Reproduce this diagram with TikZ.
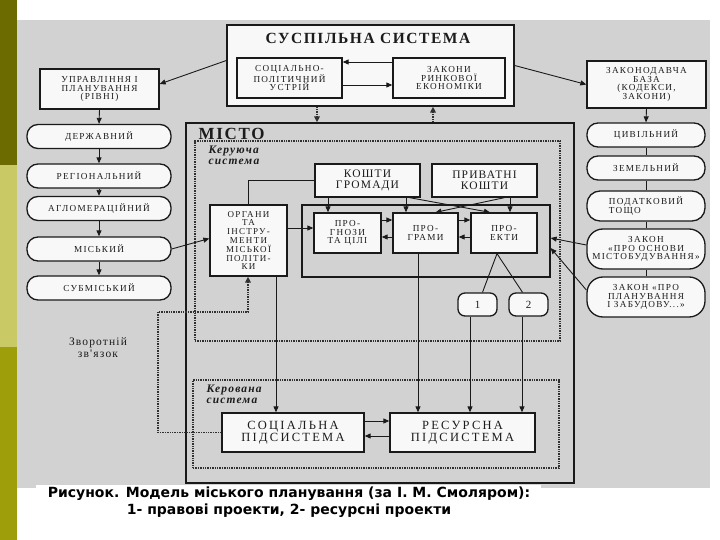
\documentclass[tikz,border=0pt]{standalone}
\usepackage{fontspec}
\setmainfont{Liberation Serif}
\newfontfamily\capfont{DejaVu Sans}
\newfontfamily\dgf[LetterSpace=10]{Liberation Serif}
\newfontfamily\dgfb[LetterSpace=14]{Liberation Serif}
\newfontfamily\dgfw[LetterSpace=18]{Liberation Serif}
\usetikzlibrary{arrows.meta,calc}
\definecolor{bgc}{HTML}{D2D2D2}
\definecolor{boxf}{HTML}{F8F8F8}
\definecolor{ink}{HTML}{1A1A1A}
\definecolor{txt}{HTML}{1C1C1C}
\definecolor{stripA}{HTML}{6B6B00}
\definecolor{stripB}{HTML}{C9C965}
\definecolor{stripC}{HTML}{9E9E0A}
\newcommand\fB{\dgfb\fontsize{9.2}{8.7}\selectfont}
\newcommand\fO{\dgfb\fontsize{9}{8.8}\selectfont}
\newcommand\fC{\dgf\fontsize{11.5}{11}\selectfont}
\newcommand\fD{\dgfw\fontsize{12.5}{11.5}\selectfont}
\newcommand\fN{\dgf\fontsize{11}{11}\selectfont}
\newcommand\fT{\dgf\bfseries\fontsize{15.5}{15.5}\selectfont}
\newcommand\fM{\dgf\bfseries\fontsize{17}{17}\selectfont}
\newcommand\fI{\dgf\bfseries\itshape\fontsize{11.5}{11}\selectfont}
\begin{document}
\begin{tikzpicture}[x=1pt,y=-1pt,
  box/.style={draw=ink, fill=boxf, line width=1.3pt, align=center, inner sep=1pt, text=txt},
  pill/.style={box, rounded corners=11pt},
  frm/.style={draw=ink, line width=1.3pt},
  dotbox/.style={draw=ink!90, line width=1.7pt, dash pattern=on 1.4pt off 1pt},
  arr/.style={draw=ink, line width=0.9pt, -{Triangle[length=6pt,width=5pt]}},
  ln/.style={draw=ink, line width=0.9pt},
  dotarr/.style={draw=ink!90, line width=1.7pt, dash pattern=on 1.4pt off 1pt, -{Triangle[length=6pt,width=5.5pt]}}
]
\useasboundingbox (0,0) rectangle (720,540);
\fill[white] (0,0) rectangle (720,540);
\fill[bgc] (16,20) rectangle (710,488);
\fill[white] (36,485) rectangle (541,540);
\fill[stripA] (0,0) rectangle (17,165);
\fill[stripB] (0,165) rectangle (17,347);
\fill[stripC] (0,347) rectangle (17,540);

% ---- top system
\node[box, minimum width=287pt, minimum height=81pt] (soc) at (370.5,65.5) {};
\node[font=\fT, text=txt] (socT) at (368,38) {СУСПІЛЬНА СИСТЕМА};
\node[box, font=\fB, minimum width=105pt, minimum height=40pt] (spu) at (289.5,78) {СОЦІАЛЬНО-\\ПОЛІТИЧНИЙ\\УСТРІЙ};
\node[box, font=\fB, minimum width=112pt, minimum height=40pt] (zre) at (449,78) {ЗАКОНИ\\РИНКОВОЇ\\ЕКОНОМІКИ};

% ---- left column
\node[box, font=\fB, minimum width=119pt, minimum height=40pt] (upr) at (99.5,89) {УПРАВЛІННЯ І\\ПЛАНУВАННЯ\\(РІВНІ)};
\node[pill, font=\fB, minimum width=144pt, minimum height=24pt] (dj) at (99,136.5) {ДЕРЖАВНИЙ};
\node[pill, font=\fB, minimum width=144pt, minimum height=24pt] (rg) at (99,176) {РЕГІОНАЛЬНИЙ};
\node[pill, font=\fB, minimum width=144pt, minimum height=24pt] (ag) at (99,208.5) {АГЛОМЕРАЦІЙНИЙ};
\node[pill, font=\fB, minimum width=144pt, minimum height=24pt] (ms) at (99,249) {МІСЬКИЙ};
\node[pill, font=\fB, minimum width=144pt, minimum height=24pt] (sb) at (99,288) {СУБМІСЬКИЙ};
\node[font=\dgf\fontsize{11.5}{12}\selectfont, text=txt, align=center] (fbT) at (98,348) {Зворотній\\зв'язок};

% ---- right column
\node[box, font=\fB, minimum width=119pt, minimum height=47pt] (zak) at (646.5,84.5) {ЗАКОНОДАВЧА\\БАЗА\\(КОДЕКСИ,\\ЗАКОНИ)};
\node[pill, font=\fB, minimum width=118pt, minimum height=24pt] (civ) at (646,135) {ЦИВІЛЬНИЙ};
\node[pill, font=\fB, minimum width=118pt, minimum height=24pt] (zem) at (646,168) {ЗЕМЕЛЬНИЙ};
\node[pill, font=\fB, minimum width=118pt, minimum height=30pt, align=left, rounded corners=13pt] (pod) at (646,206) {ПОДАТКОВИЙ\\ТОЩО};
\node[pill, font=\fB, minimum width=118pt, minimum height=40pt, rounded corners=16pt] (osn) at (646,249) {ЗАКОН\\«ПРО ОСНОВИ\\МІСТОБУДУВАННЯ»};
\node[pill, font=\fB, minimum width=118pt, minimum height=40pt, rounded corners=16pt] (plan) at (646,297) {ЗАКОН «ПРО\\ПЛАНУВАННЯ\\І ЗАБУДОВУ...»};

% ---- city
\node[frm, minimum width=388pt, minimum height=360pt] (misto) at (380,303) {};
\node[font=\fM, text=txt, anchor=west] (mistoT) at (195,134) {МІСТО};
\node[dotbox, minimum width=365pt, minimum height=200pt] (ker) at (377.5,241) {};
\node[font=\fI, text=txt, anchor=north west, align=left] (kerT) at (205,142) {Керуюча\\система};
\node[dotbox, minimum width=366pt, minimum height=88pt] (kerv) at (376,424) {};
\node[font=\fI, text=txt, anchor=north west, align=left] (kervT) at (203,381) {Керована\\система};

\node[frm, minimum width=248pt, minimum height=72pt] (frame) at (426,241) {};
\node[box, font=\fO, minimum width=77pt, minimum height=71pt, inner sep=0pt] (org) at (248.5,240.5) {ОРГАНИ\\ТА\\ІНСТРУ-\\МЕНТИ\\МІСЬКОЇ\\ПОЛІТИ-\\КИ};
\node[box, font=\fC, minimum width=105pt, minimum height=33pt] (kg) at (367.5,180.5) {КОШТИ\\ГРОМАДИ};
\node[box, font=\fC, minimum width=105pt, minimum height=33pt] (pk) at (484.5,180.5) {ПРИВАТНІ\\КОШТИ};
\node[box, font=\fB, minimum width=67pt, minimum height=40pt] (prog) at (347.5,233) {ПРО-\\ГНОЗИ\\ТА ЦІЛІ};
\node[box, font=\fB, minimum width=65pt, minimum height=40pt] (pgr) at (425.5,233) {ПРО-\\ГРАМИ};
\node[box, font=\fB, minimum width=66pt, minimum height=40pt] (pro) at (504,233) {ПРО-\\ЕКТИ};
\node[box, font=\fN, rounded corners=7pt, minimum width=39pt, minimum height=23pt] (n1) at (477.5,304.5) {1};
\node[box, font=\fN, rounded corners=7pt, minimum width=39pt, minimum height=23pt] (n2) at (528.5,304.5) {2};
\node[box, font=\fD, minimum width=142pt, minimum height=39pt] (ss) at (293,432.5) {СОЦІАЛЬНА\\ПІДСИСТЕМА};
\node[box, font=\fD, minimum width=145pt, minimum height=39pt] (res) at (462.5,432.5) {РЕСУРСНА\\ПІДСИСТЕМА};

% ---- connectors: top
\draw[arr] ([yshift=5pt]soc.west) -- ([yshift=5pt]upr.east);
\draw[arr] (soc.east) -- (zak.west);
\draw[arr] ([yshift=16pt]zre.west) -- ([yshift=16pt]spu.east);
\draw[arr] ([yshift=-7pt]spu.east) -- ([yshift=-7pt]zre.west);
\coordinate (xa) at (317,0);
\coordinate (xb) at (433,0);
\draw[dotarr] (soc.south -| xa) -- (misto.north -| xa);
\draw[dotarr] (misto.north -| xb) -- (soc.south -| xb);

% ---- left chain
\foreach \a/\b in {upr/dj, dj/rg, rg/ag, ag/ms, ms/sb} \draw[arr] (\a.south) -- (\b.north);
\draw[arr] (ms.east) -- ([yshift=2pt]org.west);

% ---- right chain
\draw[arr] (zak.south) -- (civ.north);
\foreach \a/\b in {civ/zem, zem/pod, pod/osn, osn/plan} \draw[ln] (\a.south) -- (\b.north);
\draw[arr] ([yshift=4pt]osn.west) -- ([yshift=3pt]frame.east);
\draw[arr] ([yshift=7pt]plan.west) -- ([yshift=-7pt]frame.east);

% ---- governing system
\draw[ln] (org.north) |- (kg.west);
\coordinate (ya) at (0,228);
\draw[arr] (org.east |- ya) -- (prog.west |- ya);
\coordinate (x1) at (328,0);
\draw[arr] (kg.south -| x1) -- (prog.north -| x1);
\coordinate (x2) at (406,0);
\draw[arr] (kg.south -| x2) -- (pgr.north -| x2);
\draw[arr] ([xshift=42pt]kg.south) -- ([xshift=-14pt]pro.north);
\draw[arr] ([xshift=20pt]pk.south) -- ([xshift=10pt]pgr.north);
\coordinate (x3) at (510,0);
\draw[arr] (pk.south -| x3) -- (pro.north -| x3);
\coordinate (yb) at (0,220);
\coordinate (yc) at (0,237);
\draw[arr] (prog.east |- yb) -- (pgr.west |- yb);
\draw[arr] (pgr.west |- yc) -- (prog.east |- yc);
\draw[arr] (pgr.east |- yb) -- (pro.west |- yb);
\draw[arr] (pro.west |- yc) -- (pgr.east |- yc);

% ---- to governed system
\coordinate (x4) at (418,0);
\draw[arr] (pgr.south -| x4) -- (res.north -| x4);
\coordinate (x5) at (276,0);
\draw[arr] (org.south -| x5) -- (ss.north -| x5);
\draw[ln] ([xshift=-7pt]pro.south) -- ([xshift=5pt]n1.north);
\draw[ln] ([xshift=-7pt]pro.south) -- ([xshift=-6pt]n2.north);
\coordinate (x6) at (470,0);
\draw[arr] (n1.south -| x6) -- (res.north -| x6);
\coordinate (x7) at (522,0);
\draw[arr] (n2.south -| x7) -- (res.north -| x7);
\coordinate (yd) at (0,421);
\coordinate (ye) at (0,436);
\draw[arr] (ss.east |- yd) -- (res.west |- yd);
\draw[arr] (res.west |- ye) -- (ss.east |- ye);

% ---- feedback
\coordinate (fb1) at (158,312);
\coordinate (x8) at (248,0);
\draw[dotarr] (ss.west) -| (fb1) -| (org.south -| x8);

% ---- caption
\node[font=\capfont\bfseries\fontsize{14}{16.5}\selectfont, align=center, text=black] (cap) at (289,502) {Рисунок. Модель міського планування (за І. М. Смоляром):\\1- правові проекти, 2- ресурсні проекти};
\end{tikzpicture}
\end{document}
